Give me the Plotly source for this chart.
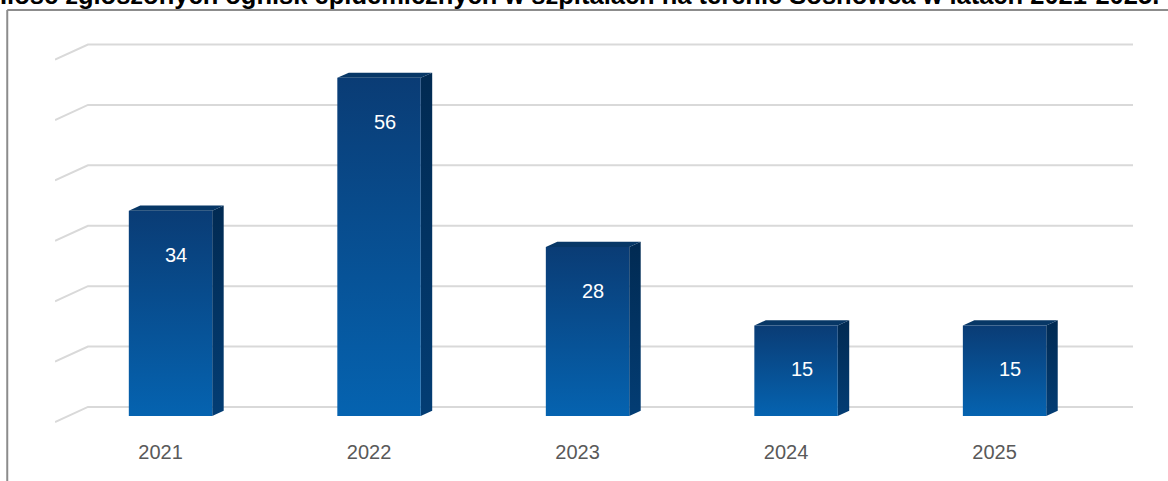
import plotly.graph_objects as go

# data
years = ["2021", "2022", "2023", "2024", "2025"]
outbreaks = [34, 56, 28, 15, 15]
grid_values = [0, 10, 20, 30, 40, 50, 60]
title_text = ("Ilość zgłoszonych ognisk epidemicznych w szpitalach na terenie "
              "Sosnowca w latach 2021-2025.")

# pseudo-3D geometry (in axis units)
HALF_W = 0.2        # half width of the bar front face
DEPTH_X = 0.055     # horizontal depth of side / top faces
DEPTH_Y = 0.85      # vertical depth of side / top faces
WALL_Y = 1.5        # back wall offset of the gridlines
WALL_X = 0.158      # width of the left side wall
LABEL_SHIFT = 0.048  # category labels sit slightly left of bar centres

FRONT_TOP = "#0a3c75"
FRONT_BOTTOM = "#0563b0"
SIDE_TOP = "#012a52"
SIDE_BOTTOM = "#033d74"
TOP_FACE = "#073766"
GRID = "#d9d9d9"

X_MIN, X_MAX = -0.554, 4.616
Y_MIN, Y_MAX = -2.32, 63.91

fig = go.Figure()

# back wall gridlines with a short diagonal on the side wall
for v in grid_values:
    fig.add_trace(go.Scatter(
        x=[X_MIN, X_MIN + WALL_X, X_MAX],
        y=[v + WALL_Y - 2.5, v + WALL_Y, v + WALL_Y],
        mode="lines",
        line=dict(color=GRID, width=2),
        hoverinfo="skip",
        showlegend=False,
    ))

for i, (year, val) in enumerate(zip(years, outbreaks)):
    x0, x1 = i - HALF_W, i + HALF_W
    # side face
    fig.add_trace(go.Scatter(
        x=[x1, x1 + DEPTH_X, x1 + DEPTH_X, x1, x1],
        y=[0, DEPTH_Y, val + DEPTH_Y, val, 0],
        mode="lines", fill="toself",
        line=dict(width=0),
        fillgradient=dict(type="vertical",
                          colorscale=[[0, SIDE_BOTTOM], [1, SIDE_TOP]]),
        hoverinfo="skip", showlegend=False,
    ))
    # top face
    fig.add_trace(go.Scatter(
        x=[x0, x0 + DEPTH_X, x1 + DEPTH_X, x1, x0],
        y=[val, val + DEPTH_Y, val + DEPTH_Y, val, val],
        mode="lines", fill="toself",
        line=dict(width=0),
        fillcolor=TOP_FACE,
        hoverinfo="skip", showlegend=False,
    ))
    # front face
    fig.add_trace(go.Scatter(
        x=[x0, x1, x1, x0, x0],
        y=[0, 0, val, val, 0],
        mode="lines", fill="toself",
        line=dict(width=0),
        fillgradient=dict(type="vertical",
                          colorscale=[[0, FRONT_BOTTOM], [1, FRONT_TOP]]),
        name=year,
        hovertemplate=f"<b>{year}</b><br>{val}<extra></extra>",
        showlegend=False,
    ))
    fig.add_annotation(
        x=i + DEPTH_X / 2, y=val, yanchor="middle",
        yshift=-44,
        text=str(val), showarrow=False,
        font=dict(family="Liberation Sans, Arial, sans-serif", size=20,
                  color="white"),
    )

# chart title (clipped by the top of the page like in the source)
fig.add_annotation(
    xref="paper", yref="paper", x=0.487, y=1.047,
    xanchor="center", yanchor="bottom",
    text=f"<b>{title_text}</b>", showarrow=False,
    font=dict(family="Liberation Sans, Arial, sans-serif", size=25.5,
              color="black"),
)

# chart frame (left + top edge)
fig.add_shape(type="line", xref="paper", yref="paper",
              x0=-0.0443, x1=1.05, y0=1.05, y1=1.05,
              line=dict(color="#8c8c8c", width=2))
fig.add_shape(type="line", xref="paper", yref="paper",
              x0=-0.0443, x1=-0.0443, y0=1.05, y1=-0.2,
              line=dict(color="#8c8c8c", width=2))

fig.update_layout(
    width=1168,
    height=481,
    margin=dict(l=55, r=35, t=30, b=51),
    plot_bgcolor="white",
    paper_bgcolor="white",
    xaxis=dict(
        range=[X_MIN, X_MAX],
        tickvals=[i - LABEL_SHIFT for i in range(len(years))],
        ticktext=years,
        showgrid=False, zeroline=False, showline=False,
        ticks="outside", ticklen=4, tickcolor="rgba(0,0,0,0)",
        tickfont=dict(family="Liberation Sans, Arial, sans-serif", size=20,
                      color="#595959"),
        fixedrange=True,
    ),
    yaxis=dict(
        range=[Y_MIN, Y_MAX],
        showgrid=False, zeroline=False, showline=False,
        showticklabels=False,
        fixedrange=True,
    ),
)

# drop the default page margin so the figure sits at the window's corner
fig.write_html("out.html", config={"displayModeBar": False},
               post_script="document.body.style.margin='0';")
